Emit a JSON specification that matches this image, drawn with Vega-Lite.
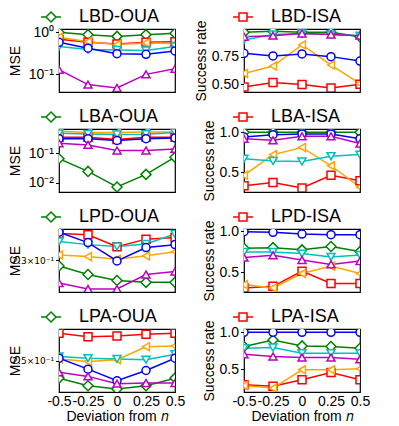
{
  "$schema": "https://vega.github.io/schema/vega-lite/v6.json",
  "padding": {"left": 7, "top": 5, "right": 5, "bottom": 5},
  "bounds": "flush",
  "columns": 2,
  "spacing": {"row": 37, "column": 69},
  "data": {"values": [
    {"panel":"r1l","series":"g","x":-0.5,"y":1.0},{"panel":"r1l","series":"g","x":-0.25,"y":0.88},{"panel":"r1l","series":"g","x":0,"y":0.80},{"panel":"r1l","series":"g","x":0.25,"y":0.88},{"panel":"r1l","series":"g","x":0.5,"y":0.95},
    {"panel":"r1l","series":"r","x":-0.5,"y":0.68},{"panel":"r1l","series":"r","x":-0.25,"y":0.58},{"panel":"r1l","series":"r","x":0,"y":0.53},{"panel":"r1l","series":"r","x":0.25,"y":0.58},{"panel":"r1l","series":"r","x":0.5,"y":0.60},
    {"panel":"r1l","series":"o","x":-0.5,"y":0.76},{"panel":"r1l","series":"o","x":-0.25,"y":0.60},{"panel":"r1l","series":"o","x":0,"y":0.51},{"panel":"r1l","series":"o","x":0.25,"y":0.56},{"panel":"r1l","series":"o","x":0.5,"y":0.55},
    {"panel":"r1l","series":"c","x":-0.5,"y":0.46},{"panel":"r1l","series":"c","x":-0.25,"y":0.39},{"panel":"r1l","series":"c","x":0,"y":0.38},{"panel":"r1l","series":"c","x":0.25,"y":0.37},{"panel":"r1l","series":"c","x":0.5,"y":0.46},
    {"panel":"r1l","series":"b","x":-0.5,"y":0.58},{"panel":"r1l","series":"b","x":-0.25,"y":0.42},{"panel":"r1l","series":"b","x":0,"y":0.31},{"panel":"r1l","series":"b","x":0.25,"y":0.30},{"panel":"r1l","series":"b","x":0.5,"y":0.36},
    {"panel":"r1l","series":"m","x":-0.5,"y":0.129},{"panel":"r1l","series":"m","x":-0.25,"y":0.057},{"panel":"r1l","series":"m","x":0,"y":0.0475},{"panel":"r1l","series":"m","x":0.25,"y":0.10},{"panel":"r1l","series":"m","x":0.5,"y":0.136},

    {"panel":"r1r","series":"g","x":-0.5,"y":0.97},{"panel":"r1r","series":"g","x":-0.25,"y":0.98},{"panel":"r1r","series":"g","x":0,"y":0.97},{"panel":"r1r","series":"g","x":0.25,"y":0.97},{"panel":"r1r","series":"g","x":0.5,"y":0.93},
    {"panel":"r1r","series":"r","x":-0.5,"y":0.476},{"panel":"r1r","series":"r","x":-0.25,"y":0.515},{"panel":"r1r","series":"r","x":0,"y":0.497},{"panel":"r1r","series":"r","x":0.25,"y":0.466},{"panel":"r1r","series":"r","x":0.5,"y":0.50},
    {"panel":"r1r","series":"o","x":-0.5,"y":0.598},{"panel":"r1r","series":"o","x":-0.25,"y":0.665},{"panel":"r1r","series":"o","x":0,"y":0.857},{"panel":"r1r","series":"o","x":0.25,"y":0.674},{"panel":"r1r","series":"o","x":0.5,"y":0.506},
    {"panel":"r1r","series":"c","x":-0.5,"y":0.90},{"panel":"r1r","series":"c","x":-0.25,"y":0.95},{"panel":"r1r","series":"c","x":0,"y":0.96},{"panel":"r1r","series":"c","x":0.25,"y":0.95},{"panel":"r1r","series":"c","x":0.5,"y":0.94},
    {"panel":"r1r","series":"b","x":-0.5,"y":0.78},{"panel":"r1r","series":"b","x":-0.25,"y":0.756},{"panel":"r1r","series":"b","x":0,"y":0.774},{"panel":"r1r","series":"b","x":0.25,"y":0.75},{"panel":"r1r","series":"b","x":0.5,"y":0.71},
    {"panel":"r1r","series":"m","x":-0.5,"y":0.93},{"panel":"r1r","series":"m","x":-0.25,"y":0.94},{"panel":"r1r","series":"m","x":0,"y":0.96},{"panel":"r1r","series":"m","x":0.25,"y":0.95},{"panel":"r1r","series":"m","x":0.5,"y":0.94},

    {"panel":"r2l","series":"g","x":-0.5,"y":0.0645},{"panel":"r2l","series":"g","x":-0.25,"y":0.0241},{"panel":"r2l","series":"g","x":0,"y":0.00714},{"panel":"r2l","series":"g","x":0.25,"y":0.0191},{"panel":"r2l","series":"g","x":0.5,"y":0.0733},
    {"panel":"r2l","series":"r","x":-0.5,"y":0.35},{"panel":"r2l","series":"r","x":-0.25,"y":0.35},{"panel":"r2l","series":"r","x":0,"y":0.29},{"panel":"r2l","series":"r","x":0.25,"y":0.35},{"panel":"r2l","series":"r","x":0.5,"y":0.35},
    {"panel":"r2l","series":"o","x":-0.5,"y":0.55},{"panel":"r2l","series":"o","x":-0.25,"y":0.50},{"panel":"r2l","series":"o","x":0,"y":0.50},{"panel":"r2l","series":"o","x":0.25,"y":0.52},{"panel":"r2l","series":"o","x":0.5,"y":0.52},
    {"panel":"r2l","series":"c","x":-0.5,"y":0.47},{"panel":"r2l","series":"c","x":-0.25,"y":0.45},{"panel":"r2l","series":"c","x":0,"y":0.43},{"panel":"r2l","series":"c","x":0.25,"y":0.44},{"panel":"r2l","series":"c","x":0.5,"y":0.50},
    {"panel":"r2l","series":"b","x":-0.5,"y":0.31},{"panel":"r2l","series":"b","x":-0.25,"y":0.31},{"panel":"r2l","series":"b","x":0,"y":0.27},{"panel":"r2l","series":"b","x":0.25,"y":0.31},{"panel":"r2l","series":"b","x":0.5,"y":0.33},
    {"panel":"r2l","series":"m","x":-0.5,"y":0.217},{"panel":"r2l","series":"m","x":-0.25,"y":0.191},{"panel":"r2l","series":"m","x":0,"y":0.123},{"panel":"r2l","series":"m","x":0.25,"y":0.123},{"panel":"r2l","series":"m","x":0.5,"y":0.14},

    {"panel":"r2r","series":"g","x":-0.5,"y":1.0},{"panel":"r2r","series":"g","x":-0.25,"y":1.0},{"panel":"r2r","series":"g","x":0,"y":1.0},{"panel":"r2r","series":"g","x":0.25,"y":1.0},{"panel":"r2r","series":"g","x":0.5,"y":1.0},
    {"panel":"r2r","series":"r","x":-0.5,"y":0.33},{"panel":"r2r","series":"r","x":-0.25,"y":0.37},{"panel":"r2r","series":"r","x":0,"y":0.30},{"panel":"r2r","series":"r","x":0.25,"y":0.46},{"panel":"r2r","series":"r","x":0.5,"y":0.39},
    {"panel":"r2r","series":"o","x":-0.5,"y":0.46},{"panel":"r2r","series":"o","x":-0.25,"y":0.72},{"panel":"r2r","series":"o","x":0,"y":0.81},{"panel":"r2r","series":"o","x":0.25,"y":0.58},{"panel":"r2r","series":"o","x":0.5,"y":0.31},
    {"panel":"r2r","series":"c","x":-0.5,"y":0.667},{"panel":"r2r","series":"c","x":-0.25,"y":0.64},{"panel":"r2r","series":"c","x":0,"y":0.633},{"panel":"r2r","series":"c","x":0.25,"y":0.70},{"panel":"r2r","series":"c","x":0.5,"y":0.72},
    {"panel":"r2r","series":"b","x":-0.5,"y":0.94},{"panel":"r2r","series":"b","x":-0.25,"y":0.97},{"panel":"r2r","series":"b","x":0,"y":0.98},{"panel":"r2r","series":"b","x":0.25,"y":0.98},{"panel":"r2r","series":"b","x":0.5,"y":0.92},
    {"panel":"r2r","series":"m","x":-0.5,"y":0.92},{"panel":"r2r","series":"m","x":-0.25,"y":0.90},{"panel":"r2r","series":"m","x":0,"y":0.95},{"panel":"r2r","series":"m","x":0.25,"y":0.95},{"panel":"r2r","series":"m","x":0.5,"y":0.86},

    {"panel":"r3l","series":"g","x":-0.5,"y":0.2262},{"panel":"r3l","series":"g","x":-0.25,"y":0.2208},{"panel":"r3l","series":"g","x":0,"y":0.2170},{"panel":"r3l","series":"g","x":0.25,"y":0.2159},{"panel":"r3l","series":"g","x":0.5,"y":0.2159},
    {"panel":"r3l","series":"r","x":-0.5,"y":0.2483},{"panel":"r3l","series":"r","x":-0.25,"y":0.2474},{"panel":"r3l","series":"r","x":0,"y":0.2390},{"panel":"r3l","series":"r","x":0.25,"y":0.2443},{"panel":"r3l","series":"r","x":0.5,"y":0.2455},
    {"panel":"r3l","series":"o","x":-0.5,"y":0.2335},{"panel":"r3l","series":"o","x":-0.25,"y":0.2324},{"panel":"r3l","series":"o","x":0,"y":0.2306},{"panel":"r3l","series":"o","x":0.25,"y":0.2329},{"panel":"r3l","series":"o","x":0.5,"y":0.2357},
    {"panel":"r3l","series":"c","x":-0.5,"y":0.2427},{"panel":"r3l","series":"c","x":-0.25,"y":0.2405},{"panel":"r3l","series":"c","x":0,"y":0.2392},{"panel":"r3l","series":"c","x":0.25,"y":0.2409},{"panel":"r3l","series":"c","x":0.5,"y":0.2479},
    {"panel":"r3l","series":"b","x":-0.5,"y":0.2492},{"panel":"r3l","series":"b","x":-0.25,"y":0.2419},{"panel":"r3l","series":"b","x":0,"y":0.2295},{"panel":"r3l","series":"b","x":0.25,"y":0.2385},{"panel":"r3l","series":"b","x":0.5,"y":0.2405},
    {"panel":"r3l","series":"m","x":-0.5,"y":0.2155},{"panel":"r3l","series":"m","x":-0.25,"y":0.2118},{"panel":"r3l","series":"m","x":0,"y":0.2118},{"panel":"r3l","series":"m","x":0.25,"y":0.2208},{"panel":"r3l","series":"m","x":0.5,"y":0.2227},

    {"panel":"r3r","series":"g","x":-0.5,"y":0.793},{"panel":"r3r","series":"g","x":-0.25,"y":0.80},{"panel":"r3r","series":"g","x":0,"y":0.773},{"panel":"r3r","series":"g","x":0.25,"y":0.814},{"panel":"r3r","series":"g","x":0.5,"y":0.752},
    {"panel":"r3r","series":"r","x":-0.5,"y":0.306},{"panel":"r3r","series":"r","x":-0.25,"y":0.326},{"panel":"r3r","series":"r","x":0,"y":0.512},{"panel":"r3r","series":"r","x":0.25,"y":0.36},{"panel":"r3r","series":"r","x":0.5,"y":0.36},
    {"panel":"r3r","series":"o","x":-0.5,"y":0.347},{"panel":"r3r","series":"o","x":-0.25,"y":0.306},{"panel":"r3r","series":"o","x":0,"y":0.483},{"panel":"r3r","series":"o","x":0.25,"y":0.574},{"panel":"r3r","series":"o","x":0.5,"y":0.483},
    {"panel":"r3r","series":"c","x":-0.5,"y":0.748},{"panel":"r3r","series":"c","x":-0.25,"y":0.748},{"panel":"r3r","series":"c","x":0,"y":0.727},{"panel":"r3r","series":"c","x":0.25,"y":0.686},{"panel":"r3r","series":"c","x":0.5,"y":0.711},
    {"panel":"r3r","series":"b","x":-0.5,"y":0.996},{"panel":"r3r","series":"b","x":-0.25,"y":0.988},{"panel":"r3r","series":"b","x":0,"y":0.967},{"panel":"r3r","series":"b","x":0.25,"y":0.959},{"panel":"r3r","series":"b","x":0.5,"y":0.959},
    {"panel":"r3r","series":"m","x":-0.5,"y":0.678},{"panel":"r3r","series":"m","x":-0.25,"y":0.707},{"panel":"r3r","series":"m","x":0,"y":0.649},{"panel":"r3r","series":"m","x":0.25,"y":0.595},{"panel":"r3r","series":"m","x":0.5,"y":0.636},

    {"panel":"r4l","series":"g","x":-0.5,"y":0.2387},{"panel":"r4l","series":"g","x":-0.25,"y":0.2339},{"panel":"r4l","series":"g","x":0,"y":0.2318},{"panel":"r4l","series":"g","x":0.25,"y":0.2339},{"panel":"r4l","series":"g","x":0.5,"y":0.2387},
    {"panel":"r4l","series":"r","x":-0.5,"y":0.2691},{"panel":"r4l","series":"r","x":-0.25,"y":0.2667},{"panel":"r4l","series":"r","x":0,"y":0.2671},{"panel":"r4l","series":"r","x":0.25,"y":0.2684},{"panel":"r4l","series":"r","x":0.5,"y":0.2691},
    {"panel":"r4l","series":"o","x":-0.5,"y":0.2513},{"panel":"r4l","series":"o","x":-0.25,"y":0.2495},{"panel":"r4l","series":"o","x":0,"y":0.2507},{"panel":"r4l","series":"o","x":0.25,"y":0.2596},{"panel":"r4l","series":"o","x":0.5,"y":0.2601},
    {"panel":"r4l","series":"c","x":-0.5,"y":0.2529},{"panel":"r4l","series":"c","x":-0.25,"y":0.2518},{"panel":"r4l","series":"c","x":0,"y":0.2513},{"panel":"r4l","series":"c","x":0.25,"y":0.2507},{"panel":"r4l","series":"c","x":0.5,"y":0.2544},
    {"panel":"r4l","series":"b","x":-0.5,"y":0.2518},{"panel":"r4l","series":"b","x":-0.25,"y":0.2445},{"panel":"r4l","series":"b","x":0,"y":0.2370},{"panel":"r4l","series":"b","x":0.25,"y":0.2436},{"panel":"r4l","series":"b","x":0.5,"y":0.2518},
    {"panel":"r4l","series":"m","x":-0.5,"y":0.2424},{"panel":"r4l","series":"m","x":-0.25,"y":0.2398},{"panel":"r4l","series":"m","x":0,"y":0.2352},{"panel":"r4l","series":"m","x":0.25,"y":0.2356},{"panel":"r4l","series":"m","x":0.5,"y":0.2356},

    {"panel":"r4r","series":"g","x":-0.5,"y":0.806},{"panel":"r4r","series":"g","x":-0.25,"y":0.896},{"panel":"r4r","series":"g","x":0,"y":0.815},{"panel":"r4r","series":"g","x":0.25,"y":0.806},{"panel":"r4r","series":"g","x":0.5,"y":0.784},
    {"panel":"r4r","series":"r","x":-0.5,"y":0.288},{"panel":"r4r","series":"r","x":-0.25,"y":0.266},{"panel":"r4r","series":"r","x":0,"y":0.356},{"panel":"r4r","series":"r","x":0.25,"y":0.455},{"panel":"r4r","series":"r","x":0.5,"y":0.356},
    {"panel":"r4r","series":"o","x":-0.5,"y":0.275},{"panel":"r4r","series":"o","x":-0.25,"y":0.243},{"panel":"r4r","series":"o","x":0,"y":0.491},{"panel":"r4r","series":"o","x":0.25,"y":0.491},{"panel":"r4r","series":"o","x":0.5,"y":0.505},
    {"panel":"r4r","series":"c","x":-0.5,"y":0.784},{"panel":"r4r","series":"c","x":-0.25,"y":0.793},{"panel":"r4r","series":"c","x":0,"y":0.716},{"panel":"r4r","series":"c","x":0.25,"y":0.716},{"panel":"r4r","series":"c","x":0.5,"y":0.716},
    {"panel":"r4r","series":"b","x":-0.5,"y":1.0},{"panel":"r4r","series":"b","x":-0.25,"y":1.0},{"panel":"r4r","series":"b","x":0,"y":1.0},{"panel":"r4r","series":"b","x":0.25,"y":1.0},{"panel":"r4r","series":"b","x":0.5,"y":1.0},
    {"panel":"r4r","series":"m","x":-0.5,"y":0.703},{"panel":"r4r","series":"m","x":-0.25,"y":0.671},{"panel":"r4r","series":"m","x":0,"y":0.658},{"panel":"r4r","series":"m","x":0.25,"y":0.658},{"panel":"r4r","series":"m","x":0.5,"y":0.635}
  ]},
  "resolve": {
    "scale": {"x": "independent", "y": "independent", "color": "independent"},
    "axis": {"x": "independent", "y": "independent"},
    "legend": {"color": "independent"}
  },
  "concat": [
    {
      "width": 116, "height": 63,
      "transform": [{"filter": "datum.panel == 'r1l'"}],
      "encoding": {
        "x": {"field": "x", "type": "quantitative", "scale": {"domain": [-0.5, 0.5], "nice": false, "zero": false}, "axis": {"labels": false, "ticks": false, "title": null}},
        "y": {"field": "y", "type": "quantitative", "scale": {"type": "log", "domain": [0.038, 1.2], "nice": false}, "axis": {"values": [0.1, 1], "labelExpr": "datum.value > 0.5 ? '10⁰' : '10⁻¹'", "title": "MSE", "minExtent": 28, "maxExtent": 28, "titlePadding": 9}}
      },
      "layer": [
        {"mark": {"type": "line", "strokeWidth": 1.5, "clip": true},
         "encoding": {"color": {"field": "series", "type": "nominal", "scale": {"domain": ["g","r","o","c","b","m"], "range": ["#008000","#ff0000","#ffa500","#00bfbf","#0000ff","#bf00bf"]},
          "legend": {"values": ["g"], "labelExpr": "'LBD-OUA'", "title": null, "orient": "none", "legendX": -19, "legendY": -23, "symbolType": "M-1,0L-0.5,0M0.5,0L1,0M-0.5,0L0,-0.5L0.5,0L0,0.5Z", "symbolSize": 400, "symbolStrokeWidth": 1.5, "symbolFillColor": "white", "labelFontSize": 18, "labelOffset": 17, "labelLimit": 0, "labelColor": "black", "padding": 0}}}},
        {"transform": [{"filter": "datum.series == 'g'"}], "mark": {"type": "point", "shape": "M-1.25,0L0,-1.25L1.25,0L0,1.25Z", "filled": false, "fill": "white", "fillOpacity": 1, "stroke": "#008000", "strokeWidth": 1.5, "size": 64, "opacity": 1, "clip": true}},
        {"transform": [{"filter": "datum.series == 'r'"}], "mark": {"type": "point", "shape": "square", "filled": false, "fill": "white", "fillOpacity": 1, "stroke": "#ff0000", "strokeWidth": 1.5, "size": 64, "opacity": 1, "clip": true}},
        {"transform": [{"filter": "datum.series == 'o'"}], "mark": {"type": "point", "shape": "triangle-left", "filled": false, "fill": "white", "fillOpacity": 1, "stroke": "#ffa500", "strokeWidth": 1.5, "size": 64, "opacity": 1, "clip": true}},
        {"transform": [{"filter": "datum.series == 'c'"}], "mark": {"type": "point", "shape": "triangle-down", "filled": false, "fill": "white", "fillOpacity": 1, "stroke": "#00bfbf", "strokeWidth": 1.5, "size": 64, "opacity": 1, "clip": true}},
        {"transform": [{"filter": "datum.series == 'b'"}], "mark": {"type": "point", "shape": "circle", "filled": false, "fill": "white", "fillOpacity": 1, "stroke": "#0000ff", "strokeWidth": 1.5, "size": 64, "opacity": 1, "clip": true}},
        {"transform": [{"filter": "datum.series == 'm'"}], "mark": {"type": "point", "shape": "triangle-up", "filled": false, "fill": "white", "fillOpacity": 1, "stroke": "#bf00bf", "strokeWidth": 1.5, "size": 64, "opacity": 1, "clip": true}}
      ]
    },
    {
      "width": 116, "height": 63,
      "transform": [{"filter": "datum.panel == 'r1r'"}],
      "encoding": {
        "x": {"field": "x", "type": "quantitative", "scale": {"domain": [-0.5, 0.5], "nice": false, "zero": false}, "axis": {"labels": false, "ticks": false, "title": null}},
        "y": {"field": "y", "type": "quantitative", "scale": {"domain": [0.43, 1.0], "nice": false, "zero": false}, "axis": {"values": [0.5, 0.75], "format": ".2f", "title": "Success rate", "titlePadding": 3}}
      },
      "layer": [
        {"mark": {"type": "line", "strokeWidth": 1.5, "clip": true},
         "encoding": {"color": {"field": "series", "type": "nominal", "scale": {"domain": ["g","r","o","c","b","m"], "range": ["#008000","#ff0000","#ffa500","#00bfbf","#0000ff","#bf00bf"]},
          "legend": {"values": ["r"], "labelExpr": "'LBD-ISA'", "title": null, "orient": "none", "legendX": -12, "legendY": -23, "symbolType": "M-1,0L-0.4,0M0.4,0L1,0M-0.4,-0.4L0.4,-0.4L0.4,0.4L-0.4,0.4Z", "symbolSize": 400, "symbolStrokeWidth": 1.5, "symbolFillColor": "white", "labelFontSize": 18, "labelOffset": 17, "labelLimit": 0, "labelColor": "black", "padding": 0}}}},
        {"transform": [{"filter": "datum.series == 'g'"}], "mark": {"type": "point", "shape": "M-1.25,0L0,-1.25L1.25,0L0,1.25Z", "filled": false, "fill": "white", "fillOpacity": 1, "stroke": "#008000", "strokeWidth": 1.5, "size": 64, "opacity": 1, "clip": true}},
        {"transform": [{"filter": "datum.series == 'r'"}], "mark": {"type": "point", "shape": "square", "filled": false, "fill": "white", "fillOpacity": 1, "stroke": "#ff0000", "strokeWidth": 1.5, "size": 64, "opacity": 1, "clip": true}},
        {"transform": [{"filter": "datum.series == 'o'"}], "mark": {"type": "point", "shape": "triangle-left", "filled": false, "fill": "white", "fillOpacity": 1, "stroke": "#ffa500", "strokeWidth": 1.5, "size": 64, "opacity": 1, "clip": true}},
        {"transform": [{"filter": "datum.series == 'c'"}], "mark": {"type": "point", "shape": "triangle-down", "filled": false, "fill": "white", "fillOpacity": 1, "stroke": "#00bfbf", "strokeWidth": 1.5, "size": 64, "opacity": 1, "clip": true}},
        {"transform": [{"filter": "datum.series == 'b'"}], "mark": {"type": "point", "shape": "circle", "filled": false, "fill": "white", "fillOpacity": 1, "stroke": "#0000ff", "strokeWidth": 1.5, "size": 64, "opacity": 1, "clip": true}},
        {"transform": [{"filter": "datum.series == 'm'"}], "mark": {"type": "point", "shape": "triangle-up", "filled": false, "fill": "white", "fillOpacity": 1, "stroke": "#bf00bf", "strokeWidth": 1.5, "size": 64, "opacity": 1, "clip": true}}
      ]
    },
    {
      "width": 116, "height": 63,
      "transform": [{"filter": "datum.panel == 'r2l'"}],
      "encoding": {
        "x": {"field": "x", "type": "quantitative", "scale": {"domain": [-0.5, 0.5], "nice": false, "zero": false}, "axis": {"labels": false, "ticks": false, "title": null}},
        "y": {"field": "y", "type": "quantitative", "scale": {"type": "log", "domain": [0.00484, 0.66], "nice": false}, "axis": {"values": [0.01, 0.1], "labelExpr": "datum.value > 0.05 ? '10⁻¹' : '10⁻²'", "title": "MSE", "minExtent": 28, "maxExtent": 28, "titlePadding": 9}}
      },
      "layer": [
        {"mark": {"type": "line", "strokeWidth": 1.5, "clip": true},
         "encoding": {"color": {"field": "series", "type": "nominal", "scale": {"domain": ["g","r","o","c","b","m"], "range": ["#008000","#ff0000","#ffa500","#00bfbf","#0000ff","#bf00bf"]},
          "legend": {"values": ["g"], "labelExpr": "'LBA-OUA'", "title": null, "orient": "none", "legendX": -19, "legendY": -23, "symbolType": "M-1,0L-0.5,0M0.5,0L1,0M-0.5,0L0,-0.5L0.5,0L0,0.5Z", "symbolSize": 400, "symbolStrokeWidth": 1.5, "symbolFillColor": "white", "labelFontSize": 18, "labelOffset": 17, "labelLimit": 0, "labelColor": "black", "padding": 0}}}},
        {"transform": [{"filter": "datum.series == 'g'"}], "mark": {"type": "point", "shape": "M-1.25,0L0,-1.25L1.25,0L0,1.25Z", "filled": false, "fill": "white", "fillOpacity": 1, "stroke": "#008000", "strokeWidth": 1.5, "size": 64, "opacity": 1, "clip": true}},
        {"transform": [{"filter": "datum.series == 'r'"}], "mark": {"type": "point", "shape": "square", "filled": false, "fill": "white", "fillOpacity": 1, "stroke": "#ff0000", "strokeWidth": 1.5, "size": 64, "opacity": 1, "clip": true}},
        {"transform": [{"filter": "datum.series == 'o'"}], "mark": {"type": "point", "shape": "triangle-left", "filled": false, "fill": "white", "fillOpacity": 1, "stroke": "#ffa500", "strokeWidth": 1.5, "size": 64, "opacity": 1, "clip": true}},
        {"transform": [{"filter": "datum.series == 'c'"}], "mark": {"type": "point", "shape": "triangle-down", "filled": false, "fill": "white", "fillOpacity": 1, "stroke": "#00bfbf", "strokeWidth": 1.5, "size": 64, "opacity": 1, "clip": true}},
        {"transform": [{"filter": "datum.series == 'b'"}], "mark": {"type": "point", "shape": "circle", "filled": false, "fill": "white", "fillOpacity": 1, "stroke": "#0000ff", "strokeWidth": 1.5, "size": 64, "opacity": 1, "clip": true}},
        {"transform": [{"filter": "datum.series == 'm'"}], "mark": {"type": "point", "shape": "triangle-up", "filled": false, "fill": "white", "fillOpacity": 1, "stroke": "#bf00bf", "strokeWidth": 1.5, "size": 64, "opacity": 1, "clip": true}}
      ]
    },
    {
      "width": 116, "height": 63,
      "transform": [{"filter": "datum.panel == 'r2r'"}],
      "encoding": {
        "x": {"field": "x", "type": "quantitative", "scale": {"domain": [-0.5, 0.5], "nice": false, "zero": false}, "axis": {"labels": false, "ticks": false, "title": null}},
        "y": {"field": "y", "type": "quantitative", "scale": {"domain": [0.25, 1.042], "nice": false, "zero": false}, "axis": {"values": [0.5, 1.0], "format": ".1f", "title": "Success rate", "titlePadding": 3}}
      },
      "layer": [
        {"mark": {"type": "line", "strokeWidth": 1.5, "clip": true},
         "encoding": {"color": {"field": "series", "type": "nominal", "scale": {"domain": ["g","r","o","c","b","m"], "range": ["#008000","#ff0000","#ffa500","#00bfbf","#0000ff","#bf00bf"]},
          "legend": {"values": ["r"], "labelExpr": "'LBA-ISA'", "title": null, "orient": "none", "legendX": -12, "legendY": -23, "symbolType": "M-1,0L-0.4,0M0.4,0L1,0M-0.4,-0.4L0.4,-0.4L0.4,0.4L-0.4,0.4Z", "symbolSize": 400, "symbolStrokeWidth": 1.5, "symbolFillColor": "white", "labelFontSize": 18, "labelOffset": 17, "labelLimit": 0, "labelColor": "black", "padding": 0}}}},
        {"transform": [{"filter": "datum.series == 'g'"}], "mark": {"type": "point", "shape": "M-1.25,0L0,-1.25L1.25,0L0,1.25Z", "filled": false, "fill": "white", "fillOpacity": 1, "stroke": "#008000", "strokeWidth": 1.5, "size": 64, "opacity": 1, "clip": true}},
        {"transform": [{"filter": "datum.series == 'r'"}], "mark": {"type": "point", "shape": "square", "filled": false, "fill": "white", "fillOpacity": 1, "stroke": "#ff0000", "strokeWidth": 1.5, "size": 64, "opacity": 1, "clip": true}},
        {"transform": [{"filter": "datum.series == 'o'"}], "mark": {"type": "point", "shape": "triangle-left", "filled": false, "fill": "white", "fillOpacity": 1, "stroke": "#ffa500", "strokeWidth": 1.5, "size": 64, "opacity": 1, "clip": true}},
        {"transform": [{"filter": "datum.series == 'c'"}], "mark": {"type": "point", "shape": "triangle-down", "filled": false, "fill": "white", "fillOpacity": 1, "stroke": "#00bfbf", "strokeWidth": 1.5, "size": 64, "opacity": 1, "clip": true}},
        {"transform": [{"filter": "datum.series == 'b'"}], "mark": {"type": "point", "shape": "circle", "filled": false, "fill": "white", "fillOpacity": 1, "stroke": "#0000ff", "strokeWidth": 1.5, "size": 64, "opacity": 1, "clip": true}},
        {"transform": [{"filter": "datum.series == 'm'"}], "mark": {"type": "point", "shape": "triangle-up", "filled": false, "fill": "white", "fillOpacity": 1, "stroke": "#bf00bf", "strokeWidth": 1.5, "size": 64, "opacity": 1, "clip": true}}
      ]
    },
    {
      "width": 116, "height": 63,
      "transform": [{"filter": "datum.panel == 'r3l'"}],
      "encoding": {
        "x": {"field": "x", "type": "quantitative", "scale": {"domain": [-0.5, 0.5], "nice": false, "zero": false}, "axis": {"labels": false, "ticks": false, "title": null}},
        "y": {"field": "y", "type": "quantitative", "scale": {"type": "log", "domain": [0.21, 0.2515], "nice": false}, "axis": {"values": [0.23], "labelExpr": "'2.3×10⁻¹'", "labelFont": "DejaVu Sans", "labelFontSize": 9, "title": "MSE", "minExtent": 28, "maxExtent": 28, "titlePadding": 9}}
      },
      "layer": [
        {"mark": {"type": "line", "strokeWidth": 1.5, "clip": true},
         "encoding": {"color": {"field": "series", "type": "nominal", "scale": {"domain": ["g","r","o","c","b","m"], "range": ["#008000","#ff0000","#ffa500","#00bfbf","#0000ff","#bf00bf"]},
          "legend": {"values": ["g"], "labelExpr": "'LPD-OUA'", "title": null, "orient": "none", "legendX": -19, "legendY": -23, "symbolType": "M-1,0L-0.5,0M0.5,0L1,0M-0.5,0L0,-0.5L0.5,0L0,0.5Z", "symbolSize": 400, "symbolStrokeWidth": 1.5, "symbolFillColor": "white", "labelFontSize": 18, "labelOffset": 17, "labelLimit": 0, "labelColor": "black", "padding": 0}}}},
        {"transform": [{"filter": "datum.series == 'g'"}], "mark": {"type": "point", "shape": "M-1.25,0L0,-1.25L1.25,0L0,1.25Z", "filled": false, "fill": "white", "fillOpacity": 1, "stroke": "#008000", "strokeWidth": 1.5, "size": 64, "opacity": 1, "clip": true}},
        {"transform": [{"filter": "datum.series == 'r'"}], "mark": {"type": "point", "shape": "square", "filled": false, "fill": "white", "fillOpacity": 1, "stroke": "#ff0000", "strokeWidth": 1.5, "size": 64, "opacity": 1, "clip": true}},
        {"transform": [{"filter": "datum.series == 'o'"}], "mark": {"type": "point", "shape": "triangle-left", "filled": false, "fill": "white", "fillOpacity": 1, "stroke": "#ffa500", "strokeWidth": 1.5, "size": 64, "opacity": 1, "clip": true}},
        {"transform": [{"filter": "datum.series == 'c'"}], "mark": {"type": "point", "shape": "triangle-down", "filled": false, "fill": "white", "fillOpacity": 1, "stroke": "#00bfbf", "strokeWidth": 1.5, "size": 64, "opacity": 1, "clip": true}},
        {"transform": [{"filter": "datum.series == 'b'"}], "mark": {"type": "point", "shape": "circle", "filled": false, "fill": "white", "fillOpacity": 1, "stroke": "#0000ff", "strokeWidth": 1.5, "size": 64, "opacity": 1, "clip": true}},
        {"transform": [{"filter": "datum.series == 'm'"}], "mark": {"type": "point", "shape": "triangle-up", "filled": false, "fill": "white", "fillOpacity": 1, "stroke": "#bf00bf", "strokeWidth": 1.5, "size": 64, "opacity": 1, "clip": true}}
      ]
    },
    {
      "width": 116, "height": 63,
      "transform": [{"filter": "datum.panel == 'r3r'"}],
      "encoding": {
        "x": {"field": "x", "type": "quantitative", "scale": {"domain": [-0.5, 0.5], "nice": false, "zero": false}, "axis": {"labels": false, "ticks": false, "title": null}},
        "y": {"field": "y", "type": "quantitative", "scale": {"domain": [0.256, 1.029], "nice": false, "zero": false}, "axis": {"values": [0.5, 1.0], "format": ".1f", "title": "Success rate", "titlePadding": 3}}
      },
      "layer": [
        {"mark": {"type": "line", "strokeWidth": 1.5, "clip": true},
         "encoding": {"color": {"field": "series", "type": "nominal", "scale": {"domain": ["g","r","o","c","b","m"], "range": ["#008000","#ff0000","#ffa500","#00bfbf","#0000ff","#bf00bf"]},
          "legend": {"values": ["r"], "labelExpr": "'LPD-ISA'", "title": null, "orient": "none", "legendX": -12, "legendY": -23, "symbolType": "M-1,0L-0.4,0M0.4,0L1,0M-0.4,-0.4L0.4,-0.4L0.4,0.4L-0.4,0.4Z", "symbolSize": 400, "symbolStrokeWidth": 1.5, "symbolFillColor": "white", "labelFontSize": 18, "labelOffset": 17, "labelLimit": 0, "labelColor": "black", "padding": 0}}}},
        {"transform": [{"filter": "datum.series == 'g'"}], "mark": {"type": "point", "shape": "M-1.25,0L0,-1.25L1.25,0L0,1.25Z", "filled": false, "fill": "white", "fillOpacity": 1, "stroke": "#008000", "strokeWidth": 1.5, "size": 64, "opacity": 1, "clip": true}},
        {"transform": [{"filter": "datum.series == 'r'"}], "mark": {"type": "point", "shape": "square", "filled": false, "fill": "white", "fillOpacity": 1, "stroke": "#ff0000", "strokeWidth": 1.5, "size": 64, "opacity": 1, "clip": true}},
        {"transform": [{"filter": "datum.series == 'o'"}], "mark": {"type": "point", "shape": "triangle-left", "filled": false, "fill": "white", "fillOpacity": 1, "stroke": "#ffa500", "strokeWidth": 1.5, "size": 64, "opacity": 1, "clip": true}},
        {"transform": [{"filter": "datum.series == 'c'"}], "mark": {"type": "point", "shape": "triangle-down", "filled": false, "fill": "white", "fillOpacity": 1, "stroke": "#00bfbf", "strokeWidth": 1.5, "size": 64, "opacity": 1, "clip": true}},
        {"transform": [{"filter": "datum.series == 'b'"}], "mark": {"type": "point", "shape": "circle", "filled": false, "fill": "white", "fillOpacity": 1, "stroke": "#0000ff", "strokeWidth": 1.5, "size": 64, "opacity": 1, "clip": true}},
        {"transform": [{"filter": "datum.series == 'm'"}], "mark": {"type": "point", "shape": "triangle-up", "filled": false, "fill": "white", "fillOpacity": 1, "stroke": "#bf00bf", "strokeWidth": 1.5, "size": 64, "opacity": 1, "clip": true}}
      ]
    },
    {
      "width": 116, "height": 63,
      "transform": [{"filter": "datum.panel == 'r4l'"}],
      "encoding": {
        "x": {"field": "x", "type": "quantitative", "scale": {"domain": [-0.5, 0.5], "nice": false, "zero": false}, "axis": {"values": [-0.5, -0.25, 0, 0.25, 0.5], "labelExpr": "'' + datum.value", "labelFlush": false, "labelOverlap": false, "ticks": false, "tickSize": 0, "labelPadding": 2, "title": "Deviation from 𝑛", "titlePadding": 1}},
        "y": {"field": "y", "type": "quantitative", "scale": {"type": "log", "domain": [0.23, 0.2722], "nice": false}, "axis": {"values": [0.25], "labelExpr": "'2.5×10⁻¹'", "labelFont": "DejaVu Sans", "labelFontSize": 9, "title": "MSE", "minExtent": 28, "maxExtent": 28, "titlePadding": 9}}
      },
      "layer": [
        {"mark": {"type": "line", "strokeWidth": 1.5, "clip": true},
         "encoding": {"color": {"field": "series", "type": "nominal", "scale": {"domain": ["g","r","o","c","b","m"], "range": ["#008000","#ff0000","#ffa500","#00bfbf","#0000ff","#bf00bf"]},
          "legend": {"values": ["g"], "labelExpr": "'LPA-OUA'", "title": null, "orient": "none", "legendX": -19, "legendY": -23, "symbolType": "M-1,0L-0.5,0M0.5,0L1,0M-0.5,0L0,-0.5L0.5,0L0,0.5Z", "symbolSize": 400, "symbolStrokeWidth": 1.5, "symbolFillColor": "white", "labelFontSize": 18, "labelOffset": 17, "labelLimit": 0, "labelColor": "black", "padding": 0}}}},
        {"transform": [{"filter": "datum.series == 'g'"}], "mark": {"type": "point", "shape": "M-1.25,0L0,-1.25L1.25,0L0,1.25Z", "filled": false, "fill": "white", "fillOpacity": 1, "stroke": "#008000", "strokeWidth": 1.5, "size": 64, "opacity": 1, "clip": true}},
        {"transform": [{"filter": "datum.series == 'r'"}], "mark": {"type": "point", "shape": "square", "filled": false, "fill": "white", "fillOpacity": 1, "stroke": "#ff0000", "strokeWidth": 1.5, "size": 64, "opacity": 1, "clip": true}},
        {"transform": [{"filter": "datum.series == 'o'"}], "mark": {"type": "point", "shape": "triangle-left", "filled": false, "fill": "white", "fillOpacity": 1, "stroke": "#ffa500", "strokeWidth": 1.5, "size": 64, "opacity": 1, "clip": true}},
        {"transform": [{"filter": "datum.series == 'c'"}], "mark": {"type": "point", "shape": "triangle-down", "filled": false, "fill": "white", "fillOpacity": 1, "stroke": "#00bfbf", "strokeWidth": 1.5, "size": 64, "opacity": 1, "clip": true}},
        {"transform": [{"filter": "datum.series == 'b'"}], "mark": {"type": "point", "shape": "circle", "filled": false, "fill": "white", "fillOpacity": 1, "stroke": "#0000ff", "strokeWidth": 1.5, "size": 64, "opacity": 1, "clip": true}},
        {"transform": [{"filter": "datum.series == 'm'"}], "mark": {"type": "point", "shape": "triangle-up", "filled": false, "fill": "white", "fillOpacity": 1, "stroke": "#bf00bf", "strokeWidth": 1.5, "size": 64, "opacity": 1, "clip": true}}
      ]
    },
    {
      "width": 116, "height": 63,
      "transform": [{"filter": "datum.panel == 'r4r'"}],
      "encoding": {
        "x": {"field": "x", "type": "quantitative", "scale": {"domain": [-0.5, 0.5], "nice": false, "zero": false}, "axis": {"values": [-0.5, -0.25, 0, 0.25, 0.5], "labelExpr": "'' + datum.value", "labelFlush": false, "labelOverlap": false, "ticks": false, "tickSize": 0, "labelPadding": 2, "title": "Deviation from 𝑛", "titlePadding": 1}},
        "y": {"field": "y", "type": "quantitative", "scale": {"domain": [0.189, 1.045], "nice": false, "zero": false}, "axis": {"values": [0.5, 1.0], "format": ".1f", "title": "Success rate", "titlePadding": 3}}
      },
      "layer": [
        {"mark": {"type": "line", "strokeWidth": 1.5, "clip": true},
         "encoding": {"color": {"field": "series", "type": "nominal", "scale": {"domain": ["g","r","o","c","b","m"], "range": ["#008000","#ff0000","#ffa500","#00bfbf","#0000ff","#bf00bf"]},
          "legend": {"values": ["r"], "labelExpr": "'LPA-ISA'", "title": null, "orient": "none", "legendX": -12, "legendY": -23, "symbolType": "M-1,0L-0.4,0M0.4,0L1,0M-0.4,-0.4L0.4,-0.4L0.4,0.4L-0.4,0.4Z", "symbolSize": 400, "symbolStrokeWidth": 1.5, "symbolFillColor": "white", "labelFontSize": 18, "labelOffset": 17, "labelLimit": 0, "labelColor": "black", "padding": 0}}}},
        {"transform": [{"filter": "datum.series == 'g'"}], "mark": {"type": "point", "shape": "M-1.25,0L0,-1.25L1.25,0L0,1.25Z", "filled": false, "fill": "white", "fillOpacity": 1, "stroke": "#008000", "strokeWidth": 1.5, "size": 64, "opacity": 1, "clip": true}},
        {"transform": [{"filter": "datum.series == 'r'"}], "mark": {"type": "point", "shape": "square", "filled": false, "fill": "white", "fillOpacity": 1, "stroke": "#ff0000", "strokeWidth": 1.5, "size": 64, "opacity": 1, "clip": true}},
        {"transform": [{"filter": "datum.series == 'o'"}], "mark": {"type": "point", "shape": "triangle-left", "filled": false, "fill": "white", "fillOpacity": 1, "stroke": "#ffa500", "strokeWidth": 1.5, "size": 64, "opacity": 1, "clip": true}},
        {"transform": [{"filter": "datum.series == 'c'"}], "mark": {"type": "point", "shape": "triangle-down", "filled": false, "fill": "white", "fillOpacity": 1, "stroke": "#00bfbf", "strokeWidth": 1.5, "size": 64, "opacity": 1, "clip": true}},
        {"transform": [{"filter": "datum.series == 'b'"}], "mark": {"type": "point", "shape": "circle", "filled": false, "fill": "white", "fillOpacity": 1, "stroke": "#0000ff", "strokeWidth": 1.5, "size": 64, "opacity": 1, "clip": true}},
        {"transform": [{"filter": "datum.series == 'm'"}], "mark": {"type": "point", "shape": "triangle-up", "filled": false, "fill": "white", "fillOpacity": 1, "stroke": "#bf00bf", "strokeWidth": 1.5, "size": 64, "opacity": 1, "clip": true}}
      ]
    }
  ],
  "config": {
    "font": "Liberation Sans",
    "view": {"stroke": "black", "strokeWidth": 1.2},
    "axis": {"grid": false, "domain": false, "labelFont": "Liberation Sans", "labelFontSize": 14, "labelColor": "black", "titleFont": "Liberation Sans", "titleFontSize": 14, "titleFontWeight": "normal", "titleColor": "black", "tickColor": "black", "tickSize": 3.5, "tickWidth": 1, "labelPadding": 2},
    "legend": {"labelFont": "Liberation Sans"}
  }
}
